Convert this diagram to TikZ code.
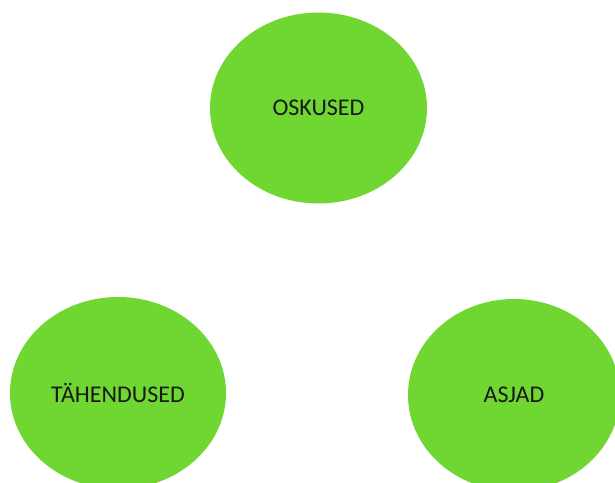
\documentclass[tikz,border=0pt]{standalone}
\usepackage{fontspec}
\setmainfont{Carlito}
\usetikzlibrary{shapes.geometric}
\definecolor{blobgreen}{RGB}{112,215,50}
\begin{document}
\begin{tikzpicture}[x=1pt,y=-1pt,
  blob/.style={ellipse, fill=blobgreen, draw=none, inner sep=0pt,
    minimum width=217pt, minimum height=191pt, font=\fontsize{24}{28}\selectfont, text=black!90}]
\useasboundingbox[fill=white] (0,0) rectangle (615,482);
\node[blob] (osk) at (318.5,108) {OSKUSED};
\node[blob, minimum width=216pt, minimum height=192pt] (tah) at (118,393) {TÄHENDUSED};
\node[blob, minimum width=212pt, minimum height=192pt] (asj) at (514,395) {ASJAD};
\end{tikzpicture}
\end{document}
